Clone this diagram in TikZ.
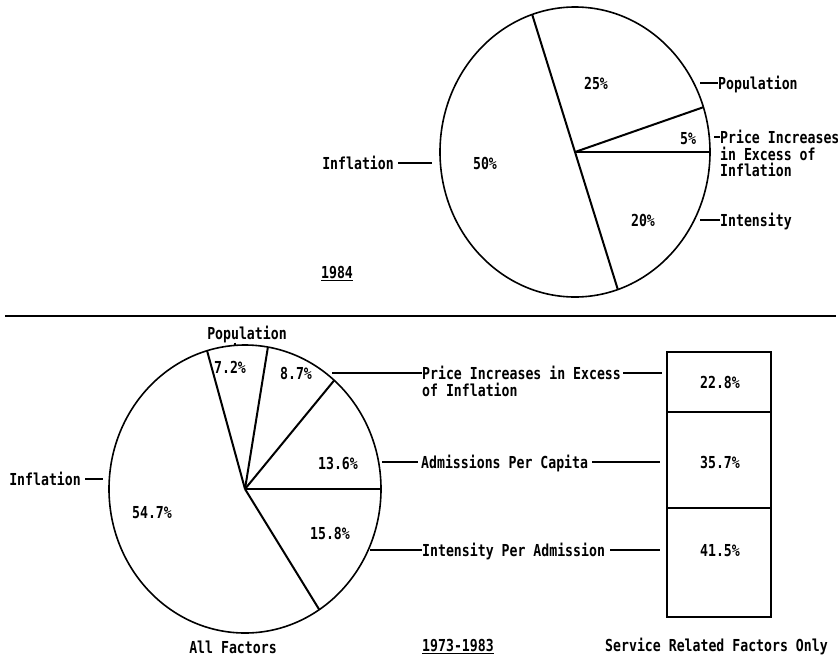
\documentclass[tikz,border=0pt]{standalone}
\usepackage{fontspec}
\setmainfont{DejaVu Sans Mono}[FakeStretch=0.8]
\begin{document}
\begin{tikzpicture}[x=1pt,y=-1pt,
  lbl/.style={font=\bfseries\fontsize{16.5}{16.5}\selectfont, inner sep=0pt},
  pie/.style={line width=1.6pt},
  spoke/.style={line width=2pt},
  lead/.style={line width=1.2pt},
  boxseg/.style={draw, line width=1.7pt, minimum width=104pt, inner sep=0pt}]
\useasboundingbox (0,0) rectangle (838,657);
% ---------------- top pie (1984)
\coordinate (T) at (575,152);
\draw[pie] (T) ellipse [x radius=135pt, y radius=145pt];
\foreach \a/\n in {0/ta,18/tb,108.5/tc,288.5/td}
  \coordinate (\n) at ({575+135*cos(\a)},{152-145*sin(\a)});
\draw[spoke] (tc) -- (T) -- (td);
\draw[spoke] (T) -- (ta);
\draw[spoke] (T) -- (tb);
\node[lbl, anchor=base] (p25) at (596,89) {25\%};
\node[lbl, anchor=base] (p5) at (688,144) {5\%};
\node[lbl, anchor=base] (p50) at (485,169) {50\%};
\node[lbl, anchor=base] (p20) at (643,226) {20\%};
\node[lbl, anchor=base west] (popT) at (718,89) {Population};
\coordinate (popTs) at (700,83);
\draw[lead] (popTs) -- (popTs -| popT.west);
\node[lbl, anchor=north west, align=left] (priceT) at (720,130.3) {Price Increases\\in Excess of\\Inflation};
\coordinate (priceTs) at (714,137);
\draw[lead] (priceTs) -- (priceTs -| priceT.west);
\node[lbl, anchor=base west] (intT) at (720,226) {Intensity};
\coordinate (intTs) at (700,220);
\draw[lead] (intTs) -- (intTs -| intT.west);
\node[lbl, anchor=base east] (infT) at (394,169) {Inflation};
\coordinate (infTe) at (432,163);
\draw[lead] ([xshift=4pt]infT.east |- infTe) -- (infTe);
\node[lbl, anchor=base] (y84) at (337,278) {\underline{1984}};
% ---------------- separator
\coordinate (sepL) at (5,316);
\coordinate (sepR) at (836,316);
\draw[line width=2.6pt] (sepL) -- (sepR);
% ---------------- bottom pie (1973-1983)
\coordinate (B) at (245,489);
\draw[pie] (B) ellipse [x radius=136pt, y radius=144pt];
\foreach \a/\n in {0/ba,49/bb,80.3/bc,106.2/bd,303.1/be}
  \coordinate (\n) at ({245+136*cos(\a)},{489-144*sin(\a)});
\foreach \n in {ba,bb,bc,bd,be} \draw[spoke] (B) -- (\n);
\node[lbl, anchor=base] (q72) at (230,373) {7.2\%};
\node[lbl, anchor=base] (q87) at (296,379) {8.7\%};
\node[lbl, anchor=base] (q136) at (338,469) {13.6\%};
\node[lbl, anchor=base] (q158) at (330,539) {15.8\%};
\node[lbl, anchor=base] (q547) at (152,518) {54.7\%};
\node[lbl, anchor=base] (popB) at (247,339) {Population};
\coordinate (pk) at (235,346);
\draw[lead] (pk |- popB.south) -- (pk);
\node[lbl, anchor=base east] (infB) at (81,485) {Inflation};
\coordinate (infBe) at (103,479);
\draw[lead] ([xshift=4pt]infB.east |- infBe) -- (infBe);
\node[lbl, anchor=base] (allf) at (233,653) {All Factors};
% leaders to the box
\node[lbl, anchor=north west, align=left] (priceB) at (422,366.3) {Price Increases in Excess\\of Inflation};
\coordinate (prL) at (332,373);
\coordinate (prR) at (662,373);
\draw[lead] (prL) -- (prL -| priceB.west);
\draw[lead] ([xshift=2pt]priceB.east |- prR) -- (prR);
\node[lbl, anchor=base west] (adm) at (421,468) {Admissions Per Capita};
\coordinate (adL) at (382,462);
\coordinate (adR) at (660,462);
\draw[lead] (adL) -- ([xshift=-3pt]adL -| adm.west);
\draw[lead] ([xshift=4pt]adm.east |- adR) -- (adR);
\node[lbl, anchor=base west] (intB) at (422,556) {Intensity Per Admission};
\coordinate (inL) at (370,550);
\coordinate (inR) at (660,550);
\draw[lead] (inL) -- (inL -| intB.west);
\draw[lead] ([xshift=5pt]intB.east |- inR) -- (inR);
% stacked box
\node[boxseg, minimum height=60pt] (b1) at (719,382) {};
\node[boxseg, minimum height=96pt] (b2) at (719,460) {};
\node[boxseg, minimum height=109pt] (b3) at (719,562.5) {};
\node[lbl, anchor=base] (v1) at (720,388) {22.8\%};
\node[lbl, anchor=base] (v2) at (720,468) {35.7\%};
\node[lbl, anchor=base] (v3) at (720,556) {41.5\%};
\node[lbl, anchor=base] (yr) at (458,651) {\underline{1973-1983}};
\node[lbl, anchor=base] (srv) at (716.5,651) {Service Related Factors Only};
\end{tikzpicture}
\end{document}
